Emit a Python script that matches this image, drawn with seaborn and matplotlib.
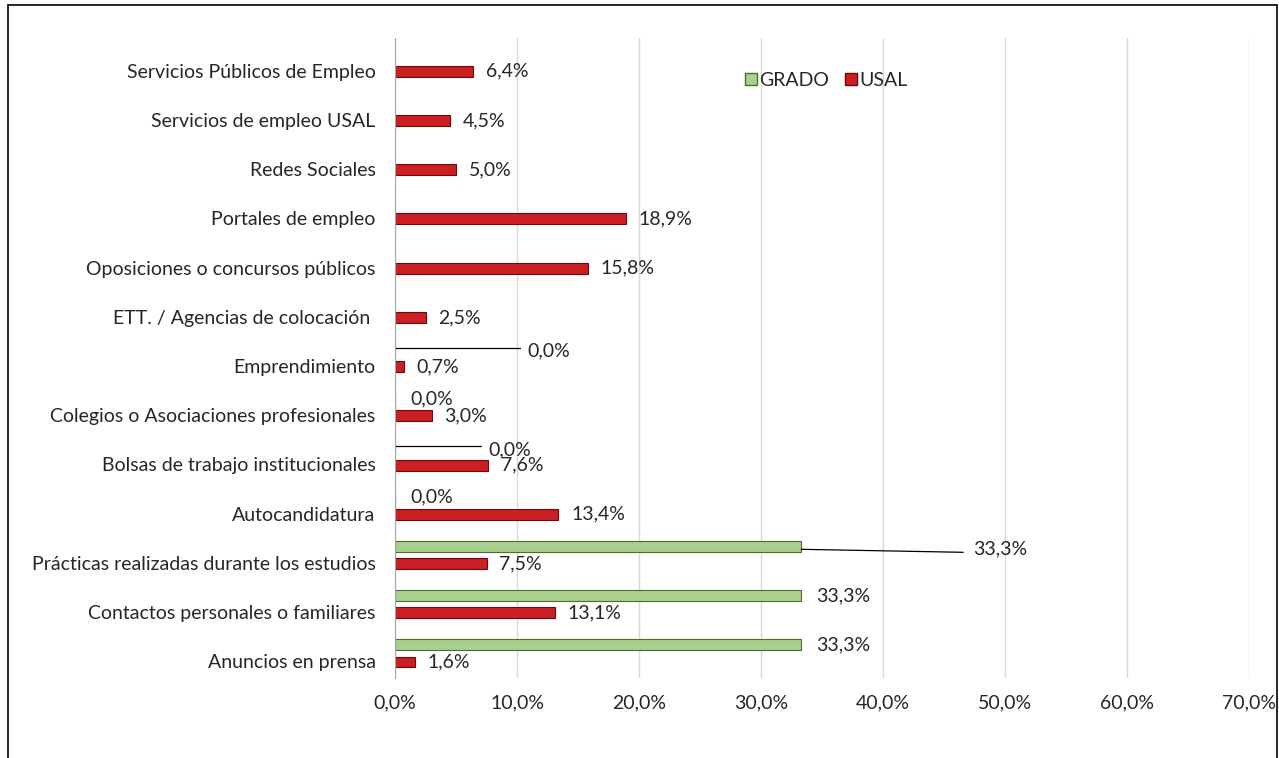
import matplotlib
matplotlib.use("Agg")
import matplotlib.pyplot as plt
import matplotlib.transforms as mtransforms
from matplotlib.patches import Rectangle, Patch
import seaborn as sns
import pandas as pd
import numpy as np

# Data (percent)
categories = [
    "Servicios Públicos de Empleo",
    "Servicios de empleo USAL",
    "Redes Sociales",
    "Portales de empleo",
    "Oposiciones o concursos públicos",
    "ETT. / Agencias de colocación ",
    "Emprendimiento",
    "Colegios o Asociaciones profesionales",
    "Bolsas de trabajo institucionales",
    "Autocandidatura",
    "Prácticas realizadas durante los estudios",
    "Contactos personales o familiares",
    "Anuncios en prensa",
]
usal = [6.4, 4.5, 5.0, 18.9, 15.8, 2.5, 0.7, 3.0, 7.6, 13.4, 7.5, 13.1, 1.6]
grado = [np.nan, np.nan, np.nan, np.nan, np.nan, np.nan, 0.0, 0.0, 0.0, 0.0, 33.3, 33.3, 33.3]
series = ["GRADO", "USAL"]
xticks = [0, 10, 20, 30, 40, 50, 60, 70]

df = pd.DataFrame({
    "cat": categories * 2,
    "serie": ["GRADO"] * len(categories) + ["USAL"] * len(categories),
    "val": grado + usal,
})

colors = {"GRADO": "#a9d08e", "USAL": "#cc1f24"}
edges = {"GRADO": "#4f6b2e", "USAL": "#6e0a0c"}
FS = 14

sns.set_style("white")
plt.rcParams["font.family"] = ["Lato", "DejaVu Sans"]

fig = plt.figure(figsize=(12.79, 7.58), dpi=100)
ax = fig.add_axes([395 / 1279, 1 - 678 / 758, 854 / 1279, 640 / 758])

sns.barplot(data=df, y="cat", x="val", hue="serie", hue_order=series,
            order=categories, palette=colors, orient="h", errorbar=None,
            width=0.7, gap=0.37, saturation=1, ax=ax, legend=False)

for cont, s in zip(ax.containers, series):
    for p in cont:
        p.set_edgecolor(edges[s])
        p.set_linewidth(0.8)

ax.set_xlim(0, 70)
ax.set_ylim(len(categories) - 0.5, -0.5)
ax.set_xticks(xticks)
ax.set_xticklabels([f"{v:.1f}%".replace(".", ",") for v in xticks], fontsize=FS)
ax.grid(axis="x", color="#d9d9d9", linewidth=1)
ax.set_axisbelow(True)
ax.set_xlabel("")
ax.set_ylabel("")
for sp in ["top", "right", "bottom"]:
    ax.spines[sp].set_visible(False)
ax.spines["left"].set_color("#a6a6a6")
ax.tick_params(axis="x", length=0, pad=12)
ax.tick_params(axis="y", which="major", length=0, pad=14, labelsize=FS)
ax.set_yticks(np.arange(-0.5, len(categories), 1), minor=True)
ax.tick_params(axis="y", which="minor", length=5, color="#a6a6a6", direction="out")

# labels sit level with the USAL bars
off = mtransforms.ScaledTranslation(0, -8 / 100, fig.dpi_scale_trans)
for lab in ax.get_yticklabels():
    lab.set_transform(lab.get_transform() + off)

def fmt(v):
    return f"{v:.1f}%".replace(".", ",")

# USAL labels
for p in ax.containers[1]:
    w = p.get_width()
    yc = p.get_y() + p.get_height() / 2
    ax.annotate(fmt(w), (w, yc), xytext=(13, 0), textcoords="offset pixels",
                va="center", ha="left", fontsize=FS)

# GRADO labels (some moved with leader lines as in the original)
moved = {
    "Emprendimiento": (132, -1, 125, 1),
    "Bolsas de trabajo institucionales": (93, -2, 86, 2),
    "Prácticas realizadas durante los estudios": (172, -3, 162, -3),
}
for p in ax.containers[0]:
    w = p.get_width()
    if np.isnan(w):
        continue
    yc = p.get_y() + p.get_height() / 2
    cat = categories[int(round(yc))]
    if cat in moved:
        dx, dy, ll, ly = moved[cat]
        x0, y0 = ax.transData.transform((w, yc))
        ax.plot([x0, x0 + ll], [y0 + ly, y0 + ly + (dy if ly < 0 else 0)],
                color="black", lw=0.9, transform=None)
        ax.annotate(fmt(w), (w, yc), xytext=(dx, dy), textcoords="offset pixels",
                    va="center", ha="left", fontsize=FS)
    else:
        ax.annotate(fmt(w), (w, yc), xytext=(15, 0), textcoords="offset pixels",
                    va="center", ha="left", fontsize=FS)

handles = [Patch(facecolor=colors[s], edgecolor=edges[s]) for s in series]
ax.legend(handles, series, loc="center", bbox_to_anchor=(0.505, 0.934), ncol=2,
          frameon=False, handlelength=0.6, handleheight=0.6, handletextpad=0.15,
          columnspacing=0.8, fontsize=FS)

fig.patches.append(Rectangle((8 / 1279, -0.01), 1269 / 1279, 1.01 - 5 / 758,
                             transform=fig.transFigure, fill=False,
                             edgecolor="black", linewidth=1.2))

fig.savefig("out.png", dpi=100)
